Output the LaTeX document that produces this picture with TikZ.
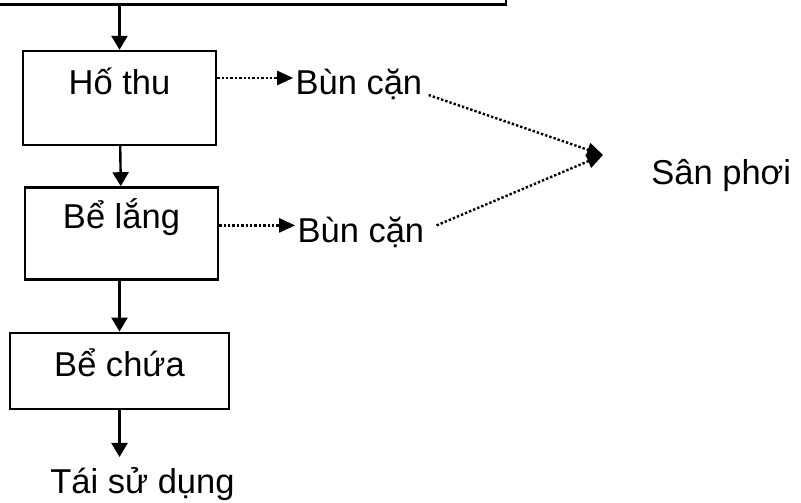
\documentclass[tikz,border=0pt]{standalone}
\usepackage{fontspec}
\setmainfont{Liberation Sans}
\usetikzlibrary{arrows.meta, positioning}

\begin{document}
\begin{tikzpicture}[
    tank/.style={rectangle, draw, line width=1.2pt, align=center, font=\fontsize{17.25pt}{20pt}\selectfont, text height=12.5pt},
    txt/.style={inner sep=1pt, font=\fontsize{17.25pt}{20pt}\selectfont, text height=17pt, text depth=0pt},
    flow/.style={-{Triangle[length=7pt, width=8pt]}, line width=1.2pt},
    sludge/.style={-{Triangle[length=8pt, width=7pt]}, line width=1.2pt, densely dotted}
]
    \useasboundingbox (0,0) rectangle (400.5pt,251pt);

    % Treatment units
    \node[tank, minimum width=96.5pt, minimum height=47pt, text depth=15.5pt] (hothu) at (59.75pt,202pt) {Hố thu};
    \node[tank, minimum width=386.5pt, minimum height=40pt, above=22pt of hothu] (inflow) {};
    \node[tank, minimum width=96.5pt, minimum height=46pt, text depth=17.5pt, below=20pt of hothu, xshift=1pt] (belang) {Bể lắng};
    \node[tank, minimum width=109.5pt, minimum height=38pt, text depth=6.5pt, below=25.5pt of belang, xshift=-1pt] (bechua) {Bể chứa};
    \node[txt, below=23.5pt of bechua, xshift=11.5pt] (reuse) {Tái sử dụng};

    % Sludge line
    \node[txt, anchor=base west] (mud1) at ([xshift=38pt]hothu.base east) {Bùn cặn};
    \node[txt, anchor=base west] (mud2) at ([xshift=38pt, yshift=-7pt]belang.base east) {Bùn cặn};
    \coordinate (meet) at (301.5pt,173.5pt);
    \node[txt, anchor=base west] (dry) at ([xshift=23pt, yshift=-15pt]meet) {Sân phơi};

    % Arrows
    \draw[flow] (inflow.south) -- (hothu.north);
    \draw[flow] (hothu) -- (belang);
    \draw[flow] (belang.south -| bechua.north) -- (bechua.north);
    \draw[flow] (bechua.south) -- (bechua.south |- reuse.north);
    \draw[sludge] (hothu.east |- mud1.west) -- (mud1.west);
    \draw[sludge] (belang.east |- mud2.west) -- (mud2.west);
    \draw[sludge] ([xshift=2pt]mud1.base east) -- (meet);
    \draw[sludge] ([xshift=5pt]mud2.east) -- (meet);

\end{tikzpicture}
\end{document}
